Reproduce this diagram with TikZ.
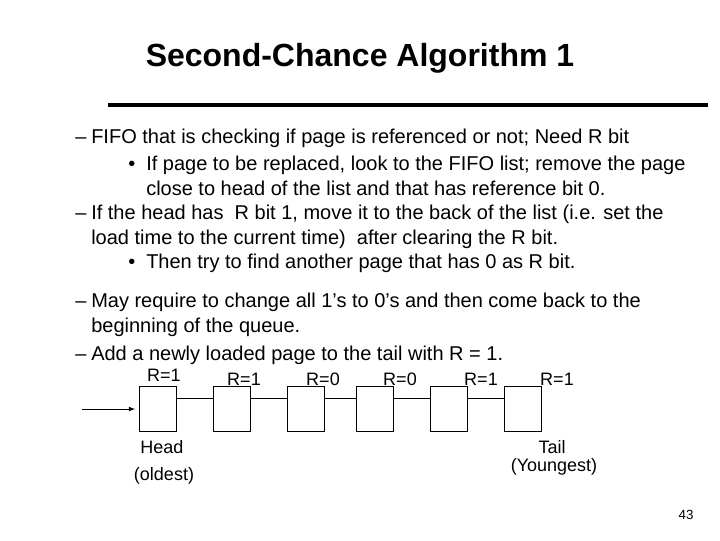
\documentclass[tikz,border=0pt]{standalone}
\usepackage{fontspec}
\setmainfont{Liberation Sans}
\usetikzlibrary{positioning}
\tikzstyle{arrow} = [semithick,-latex]
\tikzstyle{page} = [rectangle, draw=black, minimum width=28pt, minimum height=34pt, inner sep=0pt]
\tikzstyle{txt} = [anchor=base west, inner sep=0pt, font=\fontsize{15}{18}\selectfont]
\tikzstyle{lbl} = [inner sep=0pt, font=\fontsize{13.5}{16}\selectfont]
\begin{document}
\begin{tikzpicture}[x=0.75pt,y=-0.75pt]
\useasboundingbox (0,0) rectangle (720,540);
% Title and rule
\node (title) [inner sep=0pt, font=\bfseries\fontsize{24}{28}\selectfont] at (360,58) {Second-Chance Algorithm 1};
\draw [line width=3pt] (108,105) -- (708,105);

% Bullet text
\node (d1) [txt] at (75,143) {–};
\node (t1) [txt] at (91,143) {FIFO that is checking if page is referenced or not; Need R bit};
\node (b1) [txt] at (128,170) {•};
\node (t2) [txt] at (146,170) {If page to be replaced, look to the FIFO list; remove the page};
\node (t3) [txt] at (146,195) {close to head of the list and that has reference bit 0.};
\node (d2) [txt] at (75,219) {–};
\node (t4) [txt] at (91,219) {If the head has\ \ R bit 1, move it to the back of the list (i.e. set the};
\node (t5) [txt] at (91,244) {load time to the current time)\ \ after clearing the R bit.};
\node (b2) [txt] at (128,268) {•};
\node (t6) [txt] at (146,268) {Then try to find another page that has 0 as R bit.};
\node (d3) [txt] at (75,307) {–};
\node (t7) [txt] at (91,307) {May require to change all 1’s to 0’s and then come back to the};
\node (t8) [txt] at (91,332) {beginning of the queue.};
\node (d4) [txt] at (75,360) {–};
\node (t9) [txt] at (91,360) {Add a newly loaded page to the tail with R = 1.};

% Pages of the queue
\node (p1) [page] at (158,409) {};
\node (p2) [page] at (232,409) {};
\node (p3) [page] at (306,409) {};
\node (p4) [page] at (375,409) {};
\node (p5) [page] at (449,409) {};
\node (p6) [page] at (523,409) {};

\node (r1) [lbl] at (164,375) {R=1};
\node (r2) [lbl] at (244,379) {R=1};
\node (r3) [lbl] at (323,379) {R=0};
\node (r4) [lbl] at (400,379) {R=0};
\node (r5) [lbl] at (481,379) {R=1};
\node (r6) [lbl] at (557,379) {R=1};

\node (head) [lbl] at (162,447) {Head};
\node (oldest) [lbl] at (164,476) {(oldest)};
\node (tail) [lbl] at (552,447) {Tail};
\node (young) [lbl] at (554,467) {(Youngest)};

\coordinate (in) at (82,409);
\draw [arrow] (in) -- ([xshift=-3pt]p1.west);
\foreach \a/\b in {p1/p2,p2/p3,p3/p4,p4/p5,p5/p6}
  \draw ([yshift=8pt]\a.east) -- ([yshift=8pt]\b.west);

\node (num) [lbl, font=\fontsize{10}{12}\selectfont] at (686,515) {43};
\end{tikzpicture}
\end{document}
